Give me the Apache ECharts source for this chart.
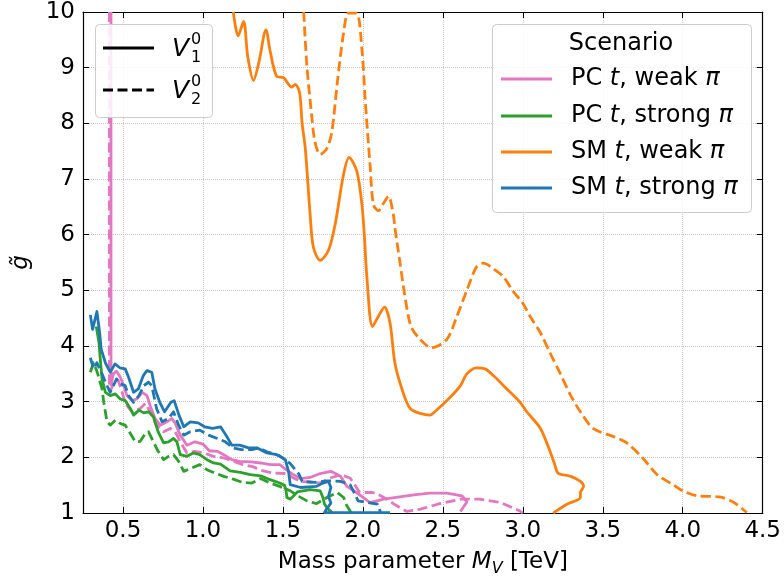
<!DOCTYPE html>
<html>
<head>
<meta charset="utf-8">
<script src="https://cdn.jsdelivr.net/npm/echarts@6/dist/echarts.min.js"></script>
<style>
html,body{margin:0;padding:0;background:#fff;}
#chart{width:784px;height:582px;}
</style>
</head>
<body>
<div id="chart"></div>
<script>
// ---- tick labels ----
const xTicks = [0.5, 1.0, 1.5, 2.0, 2.5, 3.0, 3.5, 4.0, 4.5];
const yTicks = [1, 2, 3, 4, 5, 6, 7, 8, 9, 10];

// ---- scenarios ----
const scenarioNames = ['PC t, weak \u03c0', 'PC t, strong \u03c0', 'SM t, weak \u03c0', 'SM t, strong \u03c0'];

// ---- series values [M_V (TeV), g~] ----
const pcWeakV1 = [[0.425,10],[0.425,3.30],[0.44,3.50],[0.46,3.55],[0.483,3.44],[0.504,3.29],[0.525,3.11],[0.556,3.02],[0.587,3.05],[0.62,3.17],[0.65,3.11],[0.67,2.93],[0.70,2.70],[0.733,2.58],[0.775,2.64],[0.806,2.70],[0.827,2.61],[0.858,2.40],[0.90,2.22],[0.95,2.28],[1.00,2.24],[1.04,2.12],[1.09,2.11],[1.13,2.05],[1.18,1.96],[1.23,1.93],[1.30,1.92],[1.36,1.90],[1.42,1.87],[1.48,1.87],[1.52,1.78],[1.56,1.70],[1.61,1.62],[1.67,1.64],[1.733,1.71],[1.80,1.75],[1.86,1.66],[1.90,1.48],[1.96,1.37],[2.045,1.19],[2.13,1.25],[2.23,1.29],[2.33,1.33],[2.42,1.36],[2.525,1.36],[2.62,1.31],[2.65,1.20],[2.61,1.03]];
const pcWeakV2 = [[0.415,10],[0.415,3.20],[0.43,3.25],[0.45,3.40],[0.47,3.38],[0.49,3.22],[0.51,3.02],[0.525,2.93],[0.556,2.82],[0.608,2.88],[0.64,2.97],[0.67,2.82],[0.71,2.58],[0.754,2.46],[0.796,2.52],[0.827,2.46],[0.858,2.28],[0.90,2.08],[0.95,2.11],[1.004,2.08],[1.066,2.02],[1.13,1.99],[1.19,1.93],[1.25,1.87],[1.316,1.83],[1.36,1.77],[1.44,1.72],[1.525,1.71],[1.56,1.64],[1.61,1.57],[1.65,1.56],[1.733,1.54],[1.796,1.63],[1.86,1.69],[1.92,1.63],[1.96,1.46],[1.98,1.37],[2.06,1.37],[2.10,1.33],[2.15,1.25],[2.19,1.17],[2.23,1.10],[2.275,1.03],[2.36,1.07],[2.48,1.17],[2.61,1.25],[2.73,1.25],[2.86,1.19],[2.98,1.04],[3.0,1.0]];
const pcStrongV1 = [[0.333,4.35],[0.35,4.06],[0.36,3.70],[0.369,3.41],[0.39,3.17],[0.42,3.11],[0.452,3.14],[0.483,3.05],[0.514,3.02],[0.546,2.88],[0.566,2.76],[0.60,2.85],[0.63,2.80],[0.66,2.82],[0.69,2.73],[0.72,2.46],[0.754,2.26],[0.785,2.28],[0.816,2.34],[0.837,2.28],[0.858,2.05],[0.90,2.02],[0.94,2.08],[0.98,2.05],[1.025,1.96],[1.066,1.90],[1.11,1.88],[1.17,1.76],[1.234,1.73],[1.296,1.69],[1.36,1.67],[1.42,1.60],[1.48,1.54],[1.51,1.50],[1.52,1.40],[1.525,1.28],[1.546,1.25],[1.59,1.38],[1.67,1.42],[1.733,1.40],[1.75,1.28],[1.76,1.16],[1.78,1.08],[1.80,1.03],[1.81,1.0]];
const pcStrongV2 = [[0.296,3.53],[0.316,3.70],[0.337,3.55],[0.369,3.23],[0.38,2.99],[0.40,2.64],[0.42,2.58],[0.452,2.67],[0.483,2.61],[0.514,2.58],[0.546,2.43],[0.577,2.28],[0.608,2.29],[0.64,2.43],[0.66,2.46],[0.69,2.28],[0.72,2.11],[0.754,1.96],[0.785,2.02],[0.816,2.05],[0.848,1.93],[0.88,1.75],[0.92,1.80],[0.98,1.87],[1.025,1.78],[1.066,1.73],[1.13,1.66],[1.19,1.61],[1.25,1.55],[1.306,1.54],[1.36,1.62],[1.42,1.54],[1.48,1.48],[1.546,1.40],[1.60,1.30],[1.65,1.22],[1.71,1.17],[1.775,1.28],[1.84,1.37],[1.88,1.28],[1.90,1.13],[1.92,1.04],[1.93,1.0]];
const smWeakV1 = [[1.19,10],[1.22,9.57],[1.254,9.83],[1.28,9.2],[1.316,8.77],[1.35,9.1],[1.394,9.68],[1.42,9.3],[1.46,8.85],[1.504,8.82],[1.556,8.65],[1.577,8.70],[1.604,8.56],[1.62,8.0],[1.64,7.55],[1.67,6.37],[1.69,5.78],[1.733,5.54],[1.785,5.72],[1.827,6.19],[1.879,7.08],[1.914,7.39],[1.962,7.14],[1.994,6.54],[2.01,5.95],[2.025,5.24],[2.06,4.35],[2.10,4.55],[2.135,4.70],[2.17,4.41],[2.2,3.70],[2.244,3.23],[2.295,2.88],[2.358,2.79],[2.42,2.76],[2.45,2.82],[2.546,3.08],[2.61,3.29],[2.65,3.50],[2.71,3.61],[2.764,3.59],[2.816,3.47],[2.9,3.23],[2.983,2.99],[3.025,2.82],[3.11,2.52],[3.17,2.11],[3.2,1.87],[3.22,1.72],[3.3,1.66],[3.36,1.57],[3.38,1.48],[3.36,1.37],[3.36,1.28],[3.275,1.16],[3.19,1.0]];
const smWeakV2 = [[1.63,10],[1.65,9.03],[1.68,8.14],[1.70,7.67],[1.733,7.44],[1.775,7.55],[1.806,7.85],[1.84,8.73],[1.879,9.62],[1.91,9.98],[1.96,9.98],[1.994,9.33],[2.014,8.44],[2.045,7.25],[2.066,6.54],[2.097,6.43],[2.13,6.57],[2.16,6.69],[2.19,6.37],[2.2,6.13],[2.23,5.54],[2.26,4.95],[2.30,4.36],[2.358,4.12],[2.43,3.97],[2.525,4.12],[2.587,4.53],[2.65,5.0],[2.71,5.42],[2.754,5.49],[2.816,5.39],[2.88,5.24],[2.94,4.98],[3.0,4.77],[3.046,4.53],[3.11,4.24],[3.17,3.88],[3.23,3.53],[3.3,3.11],[3.36,2.82],[3.44,2.52],[3.57,2.37],[3.65,2.26],[3.75,1.99],[3.84,1.69],[3.94,1.51],[4.0,1.40],[4.09,1.31],[4.23,1.29],[4.32,1.19],[4.4,1.01]];
const smStrongV1 = [[0.296,4.56],[0.31,4.30],[0.337,4.62],[0.354,4.24],[0.364,3.94],[0.39,3.70],[0.42,3.53],[0.45,3.68],[0.48,3.61],[0.514,3.59],[0.535,3.44],[0.566,3.17],[0.596,3.23],[0.627,3.47],[0.65,3.56],[0.68,3.53],[0.70,3.23],[0.73,2.99],[0.76,2.82],[0.80,2.99],[0.82,3.02],[0.85,2.76],[0.88,2.55],[0.92,2.64],[0.97,2.62],[1.01,2.55],[1.06,2.52],[1.11,2.55],[1.15,2.37],[1.18,2.22],[1.23,2.22],[1.285,2.17],[1.34,2.17],[1.40,2.08],[1.46,2.05],[1.515,1.96],[1.535,1.75],[1.546,1.51],[1.61,1.46],[1.71,1.48],[1.75,1.54],[1.785,1.57],[1.80,1.46],[1.785,1.30],[1.80,1.18],[1.77,1.06],[1.76,1.01],[2.17,1.01]];
const smStrongV2 = [[0.296,3.79],[0.316,3.59],[0.337,3.70],[0.369,3.50],[0.40,3.29],[0.42,3.17],[0.44,3.29],[0.46,3.41],[0.483,3.32],[0.514,3.29],[0.535,3.11],[0.566,2.99],[0.60,3.11],[0.63,3.29],[0.66,3.35],[0.68,3.29],[0.71,2.88],[0.744,2.64],[0.785,2.70],[0.816,2.82],[0.848,2.58],[0.88,2.40],[0.92,2.46],[0.98,2.49],[1.035,2.40],[1.09,2.34],[1.14,2.28],[1.19,2.17],[1.24,2.14],[1.306,2.14],[1.35,2.17],[1.40,2.10],[1.48,2.03],[1.546,1.89],[1.60,1.70],[1.62,1.57],[1.70,1.55],[1.78,1.58],[1.86,1.57],[1.92,1.51],[1.95,1.34],[1.97,1.22],[2.03,1.19],[2.09,1.16],[2.11,1.02]];

const colors = {pcWeak:'#e377c2', pcStrong:'#2ca02c', smWeak:'#ff7f0e', smStrong:'#1f77b4'};
const FONT = 'DejaVu Sans';
const FS = 23;
const LFS = 24;
const DASH = [10, 4.5];
const LW = 2.8;

function mkSeries(name, data, color, dashed, smooth) {
  return {
    name: name, type: 'line', data: data, symbol: 'none', smooth: smooth || false,
    clip: true, silent: true, animation: false,
    lineStyle: {color: color, width: LW, type: dashed ? DASH : 'solid', cap: 'butt', join: 'round'},
    xAxisIndex: 0, yAxisIndex: 0
  };
}

const series = [
  mkSeries(scenarioNames[0] + ' V1', pcWeakV1, colors.pcWeak, false),
  mkSeries(scenarioNames[0] + ' V2', pcWeakV2, colors.pcWeak, true),
  mkSeries(scenarioNames[1] + ' V1', pcStrongV1, colors.pcStrong, false),
  mkSeries(scenarioNames[1] + ' V2', pcStrongV2, colors.pcStrong, true),
  mkSeries(scenarioNames[2] + ' V1', smWeakV1, colors.smWeak, false, 0.3),
  mkSeries(scenarioNames[2] + ' V2', smWeakV2, colors.smWeak, true, 0.3),
  mkSeries(scenarioNames[3] + ' V1', smStrongV1, colors.smStrong, false),
  mkSeries(scenarioNames[3] + ' V2', smStrongV2, colors.smStrong, true)
];

const axisLine = {show: true, lineStyle: {color: '#000', width: 1.2}};
const tick = {show: true, inside: true, length: 6, lineStyle: {color: '#000', width: 1}};
const grid = {show: true, lineStyle: {color: '#c8c8c8', type: 'dotted', width: 1}};

// legends (drawn as graphics)
const legendG = [];
legendG.push({type:'rect', left:95, top:24, shape:{width:117, height:93, r:4}, style:{fill:'rgba(255,255,255,0.85)', stroke:'#cccccc', lineWidth:1}, z:100});
legendG.push({type:'line', shape:{x1:103, y1:48, x2:154, y2:48}, style:{stroke:'#000', lineWidth:LW}, z:101});
legendG.push({type:'line', shape:{x1:103, y1:90, x2:154, y2:90}, style:{stroke:'#000', lineWidth:LW, lineDash:DASH}, z:101});
[['1',48],['2',90]].forEach(function(e){
  legendG.push({type:'text', x:172, y:e[1]+1, style:{text:'V', font:'italic 25px "DejaVu Sans"', fill:'#000', verticalAlign:'middle', align:'left'}, z:101});
  legendG.push({type:'text', x:191, y:e[1]-8, style:{text:'0', font:'16px "DejaVu Sans"', fill:'#000', verticalAlign:'middle', align:'left'}, z:101});
  legendG.push({type:'text', x:191, y:e[1]+10, style:{text:e[0], font:'16px "DejaVu Sans"', fill:'#000', verticalAlign:'middle', align:'left'}, z:101});
});
legendG.push({type:'rect', left:492, top:24, shape:{width:259, height:188, r:4}, style:{fill:'rgba(255,255,255,0.85)', stroke:'#cccccc', lineWidth:1}, z:100});
legendG.push({type:'text', x:621, y:44, style:{text:'Scenario', font:LFS+'px "DejaVu Sans"', fill:'#000', verticalAlign:'middle', align:'center'}, z:101});
const legendColors = [colors.pcWeak, colors.pcStrong, colors.smWeak, colors.smStrong];
const legendRich = ['PC {i|t}, weak {i|\u03c0}', 'PC {i|t}, strong {i|\u03c0}', 'SM {i|t}, weak {i|\u03c0}', 'SM {i|t}, strong {i|\u03c0}'];
const legendY = [79, 116, 152, 188];
legendRich.forEach(function(t, k){
  legendG.push({type:'line', shape:{x1:501, y1:legendY[k], x2:552, y2:legendY[k]}, style:{stroke:legendColors[k], lineWidth:LW}, z:101});
  legendG.push({type:'text', x:571, y:legendY[k], style:{text:t, fontSize:LFS, fontFamily:FONT, fill:'#000', verticalAlign:'middle', align:'left',
    rich:{i:{fontStyle:'italic', fontSize:LFS, fontFamily:FONT, fill:'#000'}}}, z:101});
});

const option = {
  animation: false,
  backgroundColor: '#fff',
  grid: {left: 83, right: 21, top: 12, bottom: 63, containLabel: false},
  xAxis: [
    {type:'value', position:'bottom', min:0.25, max:4.5,
     axisLine: axisLine, axisTick: Object.assign({customValues: xTicks}, tick),
     axisLabel: {customValues: xTicks, formatter: function(v){return v.toFixed(1);}, fontSize: FS, fontFamily: FONT, color: '#000', margin: 6},
     splitLine: grid,
     name: 'Mass parameter {i|M}{s|V} [TeV]', nameLocation: 'middle', nameGap: 32,
     nameTextStyle: {fontSize: FS, fontFamily: FONT, color: '#000', lineHeight: 30, verticalAlign: 'top',
       rich: {i: {fontStyle: 'italic', fontSize: FS, fontFamily: FONT, color: '#000', lineHeight: 30},
              s: {fontStyle: 'italic', fontSize: 16, fontFamily: FONT, color: '#000', verticalAlign: 'bottom', lineHeight: 22, padding: [0, 0, 0, 0]}}}},
    {type:'value', position:'top', min:0.25, max:4.5,
     axisLine: axisLine, axisTick: Object.assign({customValues: xTicks}, tick),
     axisLabel: {show: false, customValues: xTicks}, splitLine: {show: false}}
  ],
  yAxis: [
    {type:'value', position:'left', min:1, max:10, interval:1,
     axisLine: axisLine, axisTick: tick,
     axisLabel: {fontSize: FS, fontFamily: FONT, color: '#000', margin: 8},
     splitLine: grid,
     name: 'g\u0303', nameLocation: 'middle', nameGap: 50,
     nameTextStyle: {fontSize: FS, fontFamily: FONT, fontStyle: 'italic', color: '#000'}},
    {type:'value', position:'right', min:1, max:10, interval:1,
     axisLine: axisLine, axisTick: tick, axisLabel: {show: false}, splitLine: {show: false}}
  ],
  graphic: legendG,
  series: series
};

const chart = echarts.init(document.getElementById('chart'), null, {renderer: 'canvas'});
chart.setOption(option);
</script>
</body>
</html>
